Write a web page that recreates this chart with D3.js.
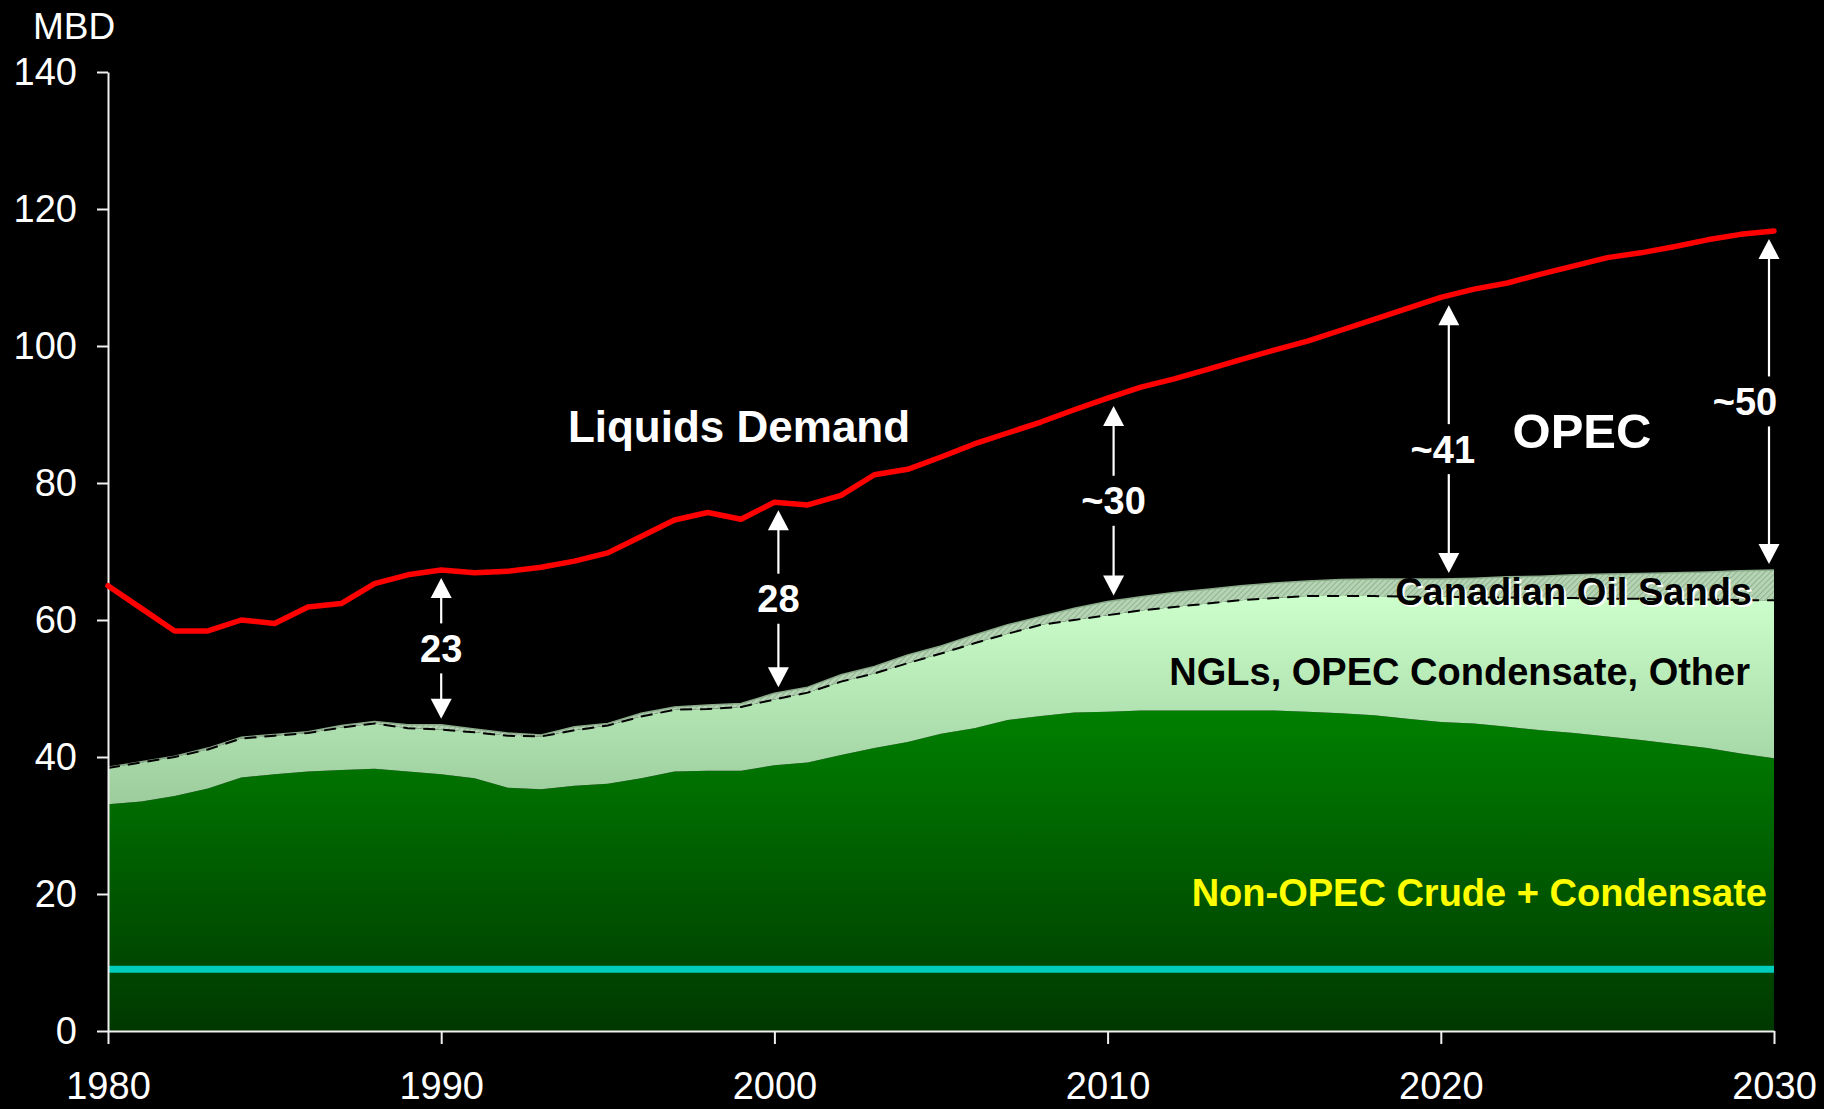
<!DOCTYPE html>
<html>
<head>
<meta charset="utf-8">
<script src="https://cdn.jsdelivr.net/npm/d3@7"></script>
<style>
  html, body { margin: 0; padding: 0; background: #000; }
  svg { display: block; font-family: "Liberation Sans", Arial, sans-serif; }
</style>
</head>
<body>
<svg id="chart" width="1824" height="1109"></svg>
<script>
// years 1980..2030
const years = d3.range(1980, 2031);

// Non-OPEC crude + condensate (MBD)
const crude = [33.1, 33.5, 34.3, 35.4, 37.0, 37.5, 37.9, 38.1, 38.3, 37.9,
  37.5, 36.9, 35.5, 35.3, 35.8, 36.1, 36.9, 37.9, 38.0, 38.0,
  38.8, 39.2, 40.3, 41.3, 42.2, 43.4, 44.2, 45.4, 46.0, 46.5,
  46.6, 46.8, 46.8, 46.8, 46.8, 46.8, 46.6, 46.4, 46.1, 45.6,
  45.1, 44.9, 44.4, 43.9, 43.5, 43.0, 42.5, 41.9, 41.3, 40.5, 39.8];

// NGLs, OPEC condensate, other
const ngl = [5.3, 5.7, 5.7, 5.7, 5.7, 5.6, 5.6, 6.2, 6.6, 6.3,
  6.5, 6.7, 7.6, 7.7, 8.1, 8.5, 9.0, 9.0, 9.0, 9.3,
  9.6, 10.2, 10.7, 10.9, 11.5, 11.7, 12.4, 12.6, 13.3, 13.5,
  14.1, 14.6, 15.1, 15.6, 16.1, 16.4, 16.9, 17.1, 17.4, 17.8,
  18.3, 18.4, 18.9, 19.3, 19.7, 20.1, 20.6, 21.1, 21.7, 22.4, 23.1];

// Canadian oil sands
const oilSands = [0.1, 0.1, 0.1, 0.2, 0.2, 0.2, 0.2, 0.3, 0.3, 0.5,
  0.7, 0.5, 0.4, 0.2, 0.5, 0.3, 0.5, 0.4, 0.6, 0.5,
  0.9, 0.8, 1.0, 1.0, 1.2, 1.1, 1.2, 1.3, 1.2, 1.7,
  2.0, 2.0, 2.1, 2.1, 2.1, 2.2, 2.2, 2.4, 2.5, 2.6,
  2.6, 2.8, 3.0, 3.2, 3.4, 3.6, 3.7, 3.9, 4.0, 4.3, 4.4];

// Liquids demand
const demand = [65.0, 61.7, 58.4, 58.4, 60.0, 59.5, 61.9, 62.4, 65.3, 66.6,
  67.3, 66.9, 67.1, 67.7, 68.6, 69.8, 72.2, 74.6, 75.7, 74.7,
  77.2, 76.8, 78.2, 81.2, 82.0, 83.8, 85.7, 87.3, 88.9, 90.7,
  92.4, 94.0, 95.2, 96.6, 98.0, 99.4, 100.7, 102.3, 103.9, 105.5,
  107.1, 108.3, 109.2, 110.5, 111.7, 112.9, 113.6, 114.5, 115.5, 116.3, 116.8];

// cyan reference level
const cyanLevel = 9;

// gap annotations
const gapYears = [1990, 2000, 2010, 2020, 2030];
const gapLabels = ["23", "28", "~30", "~41", "~50"];

const yTicks = [0, 20, 40, 60, 80, 100, 120, 140];
const xTicks = [1980, 1990, 2000, 2010, 2020, 2030];

const table = years.map((yr, i) => ({
  year: yr, crude: crude[i], ngl: ngl[i], sands: oilSands[i], demand: demand[i]
}));

const svg = d3.select("#chart");
const margin = { left: 108, right: 50, top: 72, bottom: 78 };
const width = 1824, height = 1109;

const x = d3.scaleLinear().domain([1980, 2030]).range([margin.left, width - margin.right]);
const y = d3.scaleLinear().domain([0, 140]).range([height - margin.bottom, margin.top]);

const defs = svg.append("defs");

// dark green gradient
const gDark = defs.append("linearGradient").attr("id", "gDark")
  .attr("gradientUnits", "userSpaceOnUse")
  .attr("x1", 0).attr("x2", 0).attr("y1", y(47)).attr("y2", y(0));
gDark.append("stop").attr("offset", 0).attr("stop-color", "#008000");
gDark.append("stop").attr("offset", 1).attr("stop-color", "#003800");

// light green gradient
const gLight = defs.append("linearGradient").attr("id", "gLight")
  .attr("gradientUnits", "userSpaceOnUse")
  .attr("x1", 0).attr("x2", 0).attr("y1", y(63.5)).attr("y2", y(33));
gLight.append("stop").attr("offset", 0).attr("stop-color", "#ccffcc");
gLight.append("stop").attr("offset", 1).attr("stop-color", "#9ccc9c");

// hatch for oil sands
const hatch = defs.append("pattern").attr("id", "hatch")
  .attr("width", 4).attr("height", 4)
  .attr("patternUnits", "userSpaceOnUse")
  .attr("patternTransform", "rotate(45)");
hatch.append("rect").attr("width", 4).attr("height", 4).attr("fill", "#b4d4b4");
hatch.append("line").attr("x1", 0).attr("y1", 0).attr("x2", 0).attr("y2", 4)
  .attr("stroke", "#88a888").attr("stroke-width", 1.5);

// stacked areas
const stack = d3.stack().keys(["crude", "ngl", "sands"]);
const series = stack(table);
const fills = { crude: "url(#gDark)", ngl: "url(#gLight)", sands: "url(#hatch)" };

const area = d3.area()
  .x(d => x(d.data.year))
  .y0(d => y(d[0]))
  .y1(d => y(d[1]));

svg.append("g").selectAll("path")
  .data(series)
  .enter().append("path")
    .attr("d", area)
    .attr("fill", d => fills[d.key]);

// oil sands top edge
svg.append("path")
  .datum(series[2])
  .attr("d", d3.line().x(d => x(d.data.year)).y(d => y(d[1])))
  .attr("fill", "none")
  .attr("stroke", "#8aaa8a")
  .attr("stroke-width", 1.5);

// dashed boundary at top of NGLs
svg.append("path")
  .datum(series[1])
  .attr("d", d3.line().x(d => x(d.data.year)).y(d => y(d[1])))
  .attr("fill", "none")
  .attr("stroke", "#000")
  .attr("stroke-width", 2)
  .attr("stroke-dasharray", "12,8");

// cyan line
svg.append("line")
  .attr("x1", x(1980)).attr("x2", x(2030))
  .attr("y1", y(cyanLevel)).attr("y2", y(cyanLevel))
  .attr("stroke", "#00ccbb")
  .attr("stroke-width", 7);

// axes
const yAxis = svg.append("g")
  .attr("transform", `translate(${margin.left},0)`)
  .call(d3.axisLeft(y).tickValues(yTicks).tickSize(11).tickSizeOuter(0).tickPadding(20));

const xAxis = svg.append("g")
  .attr("transform", `translate(0,${y(0)})`)
  .call(d3.axisBottom(x).tickValues(xTicks).tickFormat(d3.format("d"))
    .tickSize(13).tickSizeOuter(0).tickPadding(28));

[yAxis, xAxis].forEach(ax => {
  ax.select(".domain").attr("stroke", "#f0f0f0").attr("stroke-width", 2);
  ax.selectAll(".tick line").attr("stroke", "#f0f0f0").attr("stroke-width", 2);
  ax.selectAll(".tick text")
    .attr("fill", "#fff")
    .style("font-size", "38px")
    .style("font-family", "'Liberation Sans', Arial, sans-serif");
});

svg.append("text")
  .attr("x", 33).attr("y", 39)
  .attr("fill", "#fff")
  .style("font-size", "37px")
  .text("MBD");

// demand line
svg.append("path")
  .datum(table)
  .attr("d", d3.line().x(d => x(d.year)).y(d => y(d.demand)))
  .attr("fill", "none")
  .attr("stroke", "#ff0000")
  .attr("stroke-width", 5.5)
  .attr("stroke-linejoin", "round")
  .attr("stroke-linecap", "round");

// gap arrows
const arrowNudge = { "28": [4, 0], "~30": [6, 0], "~41": [8, 10], "~50": [-5, 0] };
const labelDx = { "~41": -6, "~50": -24 };
const supplyTop = i => crude[i] + ngl[i] + oilSands[i];

const arrows = svg.append("g");
gapYears.forEach((yr, k) => {
  const i = years.indexOf(yr);
  const lbl = gapLabels[k];
  const nudge = arrowNudge[lbl] || [0, 0];
  const ax = x(yr) + nudge[0];
  const top = y(demand[i]) + 8;
  const bot = y(supplyTop(i)) - 6;
  const mid = (top + bot) / 2 + nudge[1];
  const head = 20, hw = 10.5, gap = 25;

  arrows.append("line")
    .attr("x1", ax).attr("x2", ax).attr("y1", top + head - 1).attr("y2", mid - gap)
    .attr("stroke", "#fff").attr("stroke-width", 2.2);
  arrows.append("line")
    .attr("x1", ax).attr("x2", ax).attr("y1", mid + gap).attr("y2", bot - head + 1)
    .attr("stroke", "#fff").attr("stroke-width", 2.2);
  arrows.append("path")
    .attr("d", `M${ax},${top}L${ax - hw},${top + head}L${ax + hw},${top + head}Z`)
    .attr("fill", "#fff");
  arrows.append("path")
    .attr("d", `M${ax},${bot}L${ax - hw},${bot - head}L${ax + hw},${bot - head}Z`)
    .attr("fill", "#fff");
  arrows.append("text")
    .attr("x", ax + (labelDx[lbl] || 0)).attr("y", mid)
    .attr("dy", "0.36em")
    .attr("text-anchor", "middle")
    .attr("fill", "#fff")
    .style("font-size", "38px")
    .style("font-weight", "bold")
    .text(lbl);
});

// series labels
const labels = svg.append("g").style("font-weight", "bold");

labels.append("text")
  .attr("x", 739).attr("y", 442)
  .attr("text-anchor", "middle")
  .attr("fill", "#fff")
  .style("font-size", "44px")
  .text("Liquids Demand");

labels.append("text")
  .attr("x", 1582).attr("y", 448)
  .attr("text-anchor", "middle")
  .attr("fill", "#fff")
  .style("font-size", "49px")
  .text("OPEC");

labels.append("text")
  .attr("x", 1754).attr("y", 607)
  .attr("text-anchor", "end")
  .attr("fill", "#fff")
  .style("font-size", "38px")
  .text("Canadian Oil Sands");
labels.append("text")
  .attr("x", 1752).attr("y", 605)
  .attr("text-anchor", "end")
  .attr("fill", "#000")
  .style("font-size", "38px")
  .text("Canadian Oil Sands");

labels.append("text")
  .attr("x", 1750).attr("y", 685)
  .attr("text-anchor", "end")
  .attr("fill", "#000")
  .style("font-size", "38px")
  .text("NGLs, OPEC Condensate, Other");

labels.append("text")
  .attr("x", 1767).attr("y", 906)
  .attr("text-anchor", "end")
  .attr("fill", "#ffff00")
  .style("font-size", "38px")
  .text("Non-OPEC Crude + Condensate");
</script>
</body>
</html>
